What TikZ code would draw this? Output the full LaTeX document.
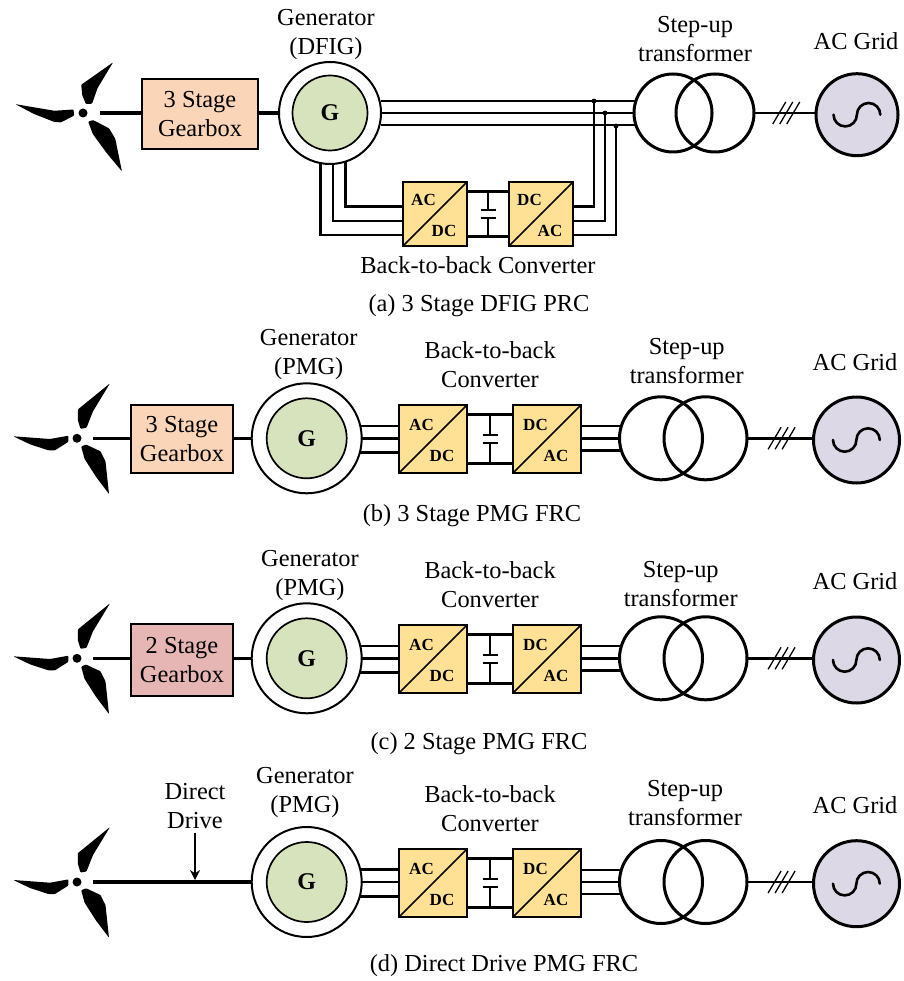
\documentclass[tikz,border=0pt]{standalone}
\usepackage{fontspec}
\setmainfont{Liberation Serif}
\usepackage{tikz}
\usetikzlibrary{arrows.meta, calc}

\definecolor{gearpeach}{HTML}{FBD5B8}
\definecolor{gearred}{HTML}{E6B6B4}
\definecolor{gengreen}{HTML}{D7E3BD}
\definecolor{convyellow}{HTML}{FFE196}
\definecolor{gridlilac}{HTML}{DDD8E6}

\tikzset{
    lbl/.style={align=center, inner sep=0pt, font=\fontsize{24.4}{29}\selectfont},
    caption/.style={inner sep=0pt, font=\fontsize{24.4}{29}\selectfont},
    small/.style={inner sep=0pt, font=\fontsize{17}{20}\selectfont\bfseries},
    gearbox/.style={draw, line width=2.5pt, outer sep=0pt, align=center, inner sep=0pt, font=\fontsize{24.4}{29}\selectfont},
    genouter/.style={draw, circle, fill=white, line width=2pt, outer sep=0pt, inner sep=0pt},
    geninner/.style={draw, circle, fill=gengreen, line width=1.7pt, outer sep=0pt, inner sep=0pt, font=\fontsize{24}{28}\selectfont\bfseries},
    convbox/.style={draw, fill=convyellow, line width=2.5pt, outer sep=0pt, inner sep=0pt, minimum size=#1},
    coil/.style={draw, circle, line width=3pt, outer sep=0pt, inner sep=0pt, minimum size=#1},
    gridnode/.style={draw, circle, fill=gridlilac, line width=3pt, outer sep=0pt, inner sep=0pt, minimum size=#1},
    hubdot/.style={fill, circle, inner sep=0pt, minimum size=9pt},
    wire/.style={line width=2.6pt},
    shaft/.style={line width=3.4pt},
}

% turbine: name, hub position, transform of the blades
\newcommand{\windmill}[3]{
    \node[hubdot] (#1) at (#2) {};
    \begin{scope}[shift={(#2)}, #3]
        \fill[rounded corners=0.8pt] (-63.7,-2) -- (-27,0.7) -- (-8.7,-2.6) -- (-8.7,3.6) -- (-22,12) -- (-28.7,12) -- (-47,6) -- cycle;
        \fill[rounded corners=0.8pt] (33,-55) -- (16,-27) -- (9.5,-10.5) -- (3.5,-9.5) -- (0.8,-18.3) -- (0.8,-28.8) -- cycle;
        \fill[rounded corners=0.8pt] (32,55.7) -- (28.5,23) -- (23.5,13) -- (9,6.2) -- (4.2,8.3) -- (7.5,20.5) -- (19,38.5) -- cycle;
    \end{scope}
}

% converter pair with dc link and capacitor: row, y of the centre, x left, x right, size
\newcommand{\converters}[5]{
    \draw[wire] (#3,#2-#5/2+9.5) coordinate (#1dca) -- (#4,#2-#5/2+9.5) coordinate (#1dcb);
    \draw[wire] (#3,#2+#5/2-9.5) coordinate (#1dcc) -- (#4,#2+#5/2-9.5) coordinate (#1dcd);
    \node[convbox=#5 pt] (#1cl) at (#3,#2) {};
    \node[convbox=#5 pt] (#1cr) at (#4,#2) {};
    \draw[line width=1.5pt] (#1cl.south west) -- (#1cl.north east);
    \draw[line width=1.5pt] (#1cr.south west) -- (#1cr.north east);
    \node[small] (#1aca) at (#3-11.5,#2-14) {AC};
    \node[small] (#1dcl) at (#3+9,#2+16.5) {DC};
    \node[small] (#1dcr) at (#4-11.5,#2-14) {DC};
    \node[small] (#1acb) at (#4+9,#2+16.5) {AC};
    % capacitor
    \coordinate (#1capa) at ({(#3+#4)/2},#2-4);
    \coordinate (#1capb) at ({(#3+#4)/2},#2+4);
    \draw[line width=1.3pt] (#1dca -| #1capa) -- (#1capa);
    \draw[line width=1.3pt] (#1dcc -| #1capb) -- (#1capb);
    \draw[line width=1.3pt] ([xshift=-7.5pt]#1capa) -- ([xshift=7.5pt]#1capa);
    \draw[line width=1.3pt] ([xshift=-7.5pt]#1capb) -- ([xshift=7.5pt]#1capb);
}

% transformer, three phase line and grid: row, y of the centre, x coil 1, x coil 2, radius, x grid, grid radius
\newcommand{\gridside}[7]{
    \node[coil=#5*2 pt] (#1tl) at (#3,#2) {};
    \node[coil=#5*2 pt] (#1tr) at (#4,#2) {};
    \node[gridnode=#7*2 pt] (#1grid) at (#6,#2+1.7) {};
    \draw[wire] (#1tr.east) -- (#1tr.east -| #1grid.west) coordinate (#1gin);
    \coordinate (#1sl) at ($(#1tr.east)!0.52!(#1gin)$);
    \draw[line width=1.3pt] ([shift={(-13.5,11)}]#1sl) -- ([shift={(-0.5,-11)}]#1sl);
    \draw[line width=1.3pt] ([shift={(-6.5,11)}]#1sl) -- ([shift={(6.5,-11)}]#1sl);
    \draw[line width=1.3pt] ([shift={(0.5,11)}]#1sl) -- ([shift={(13.5,-11)}]#1sl);
    \draw[line width=2.6pt, line cap=round] ([shift={(-23.5,0)}]#1grid.center)
        arc[start angle=180, end angle=0, radius=11.7] arc[start angle=180, end angle=360, radius=11.7];
}

\begin{document}
\begin{tikzpicture}[x=1pt, y=-1pt]
    \useasboundingbox (0,0) rectangle (903,981);

    % (a) 3 Stage DFIG PRC
    \windmill{huba}{83,113}{cm={1.06,-0.108,-0.09,0.985,(0,0)}}
    \node[gearbox, fill=gearpeach, minimum width=116pt, minimum height=70pt] (boxa) at (200,114) {3 Stage\\Gearbox};
    \node[genouter, minimum size=102pt] (gena) at (330,113) {};
    \node[geninner, minimum size=75pt] (rotora) at (330,113) {G};
    \draw[shaft] ([xshift=17pt]huba.center) -- (huba.center -| boxa.west);
    \draw[shaft] (gena.west -| boxa.east) -- (gena.west);
    \node[lbl] (gentexta) at (326,34.5) {Generator\\(DFIG)};
    \converters{a}{214}{435}{541}{64}
    \gridside{a}{113}{673}{715}{39}{857}{41}
    % stator lines
    \draw[wire] (gena.east |- atl.162) -- (atl.162);
    \draw[wire] (gena.east) -- (atl.west);
    \draw[wire] (gena.east |- atl.198) -- (atl.198);
    % rotor lines
    \draw[wire] (gena.-72) |- ([yshift=7.5pt]acl.west);
    \draw[wire] (gena.south) ++(3,0) |- ([yshift=-7pt]acl.west);
    \draw[wire] (gena.-101) |- ([yshift=-21pt]acl.west);
    % taps on the stator lines
    \coordinate (tapa) at (594,101);
    \coordinate (tapb) at (605,113);
    \coordinate (tapc) at (616,126);
    \draw[wire] ([yshift=7.5pt]acr.east) -| (tapa);
    \draw[wire] ([yshift=-7pt]acr.east) -| (tapb);
    \draw[wire] ([yshift=-21pt]acr.east) -| (tapc);
    \fill (tapa) circle (2.4);
    \fill (tapb) circle (2.4);
    \fill (tapc) circle (2.4);
    \node[lbl] (steptexta) at (695,39.5) {Step-up\\transformer};
    \node[lbl] (gridtexta) at (856,41) {AC Grid};
    \node[lbl] (convtexta) at (478,265) {Back-to-back Converter};
    \node[caption] (captiona) at (479,305.5) {(a) 3 Stage DFIG PRC};

    % (b) 3 Stage PMG FRC
    \windmill{hubb}{77,438.3}{}
    \node[gearbox, fill=gearpeach, minimum width=102pt, minimum height=68pt] (boxb) at (182,439) {3 Stage\\Gearbox};
    \node[genouter, minimum size=110pt] (genb) at (306.7,438.3) {};
    \node[geninner, minimum size=80pt] (rotorb) at (306.7,438.3) {G};
    \draw[shaft] ([xshift=16pt]hubb.center) -- (hubb.center -| boxb.west);
    \draw[shaft] (genb.west -| boxb.east) -- (genb.west);
    \node[lbl] (gentextb) at (308.7,355) {Generator\\(PMG)};
    \converters{b}{439}{433}{547}{68}
    \gridside{b}{438.3}{661}{705.5}{41.5}{856.5}{43}
    \draw[wire] (genb.13) -- (genb.13 -| bcl.west);
    \draw[wire] (genb.east) -- (genb.east -| bcl.west);
    \draw[wire] (genb.-15) -- (genb.-15 -| bcl.west);
    \draw[wire] (bcr.east |- btl.163) -- (btl.163);
    \draw[wire] (btl.west -| bcr.east) -- (btl.west);
    \draw[wire] (bcr.east |- btl.197) -- (btl.197);
    \node[lbl] (convtextb) at (490,364.5) {Back-to-back\\Converter};
    \node[lbl] (steptextb) at (686.7,361.5) {Step-up\\transformer};
    \node[lbl] (gridtextb) at (855,361.7) {AC Grid};
    \node[caption] (captionb) at (472,515.5) {(b) 3 Stage PMG FRC};

    % (c) 2 Stage PMG FRC
    \windmill{hubc}{77,658.3}{}
    \node[gearbox, fill=gearred, minimum width=102pt, minimum height=72pt] (boxc) at (182,660) {2 Stage\\Gearbox};
    \node[genouter, minimum size=110pt] (genc) at (306.7,658.3) {};
    \node[geninner, minimum size=80pt] (rotorc) at (306.7,658.3) {G};
    \draw[shaft] ([xshift=16pt]hubc.center) -- (hubc.center -| boxc.west);
    \draw[shaft] (genc.west -| boxc.east) -- (genc.west);
    \node[lbl] (gentextc) at (310,575.5) {Generator\\(PMG)};
    \converters{c}{659}{433}{547}{68}
    \gridside{c}{658.3}{661}{705.5}{41.5}{856.5}{43}
    \draw[wire] (genc.13) -- (genc.13 -| ccl.west);
    \draw[wire] (genc.east) -- (genc.east -| ccl.west);
    \draw[wire] (genc.-15) -- (genc.-15 -| ccl.west);
    \draw[wire] (ccr.east |- ctl.163) -- (ctl.163);
    \draw[wire] (ctl.west -| ccr.east) -- (ctl.west);
    \draw[wire] (ccr.east |- ctl.197) -- (ctl.197);
    \node[lbl] (convtextc) at (490,584.5) {Back-to-back\\Converter};
    \node[lbl] (steptextc) at (680.7,584.5) {Step-up\\transformer};
    \node[lbl] (gridtextc) at (855,580.7) {AC Grid};
    \node[caption] (captionc) at (479,743.5) {(c) 2 Stage PMG FRC};

    % (d) Direct Drive PMG FRC
    \windmill{hubd}{77,882}{}
    \node[genouter, minimum size=110pt] (gend) at (306.7,882) {};
    \node[geninner, minimum size=80pt] (rotord) at (306.7,882) {G};
    \draw[shaft] ([xshift=16pt]hubd.center) -- (gend.west);
    \node[lbl] (gentextd) at (305,793) {Generator\\(PMG)};
    \node[lbl] (drivetext) at (195,806.5) {Direct\\Drive};
    \draw[line width=1.4pt, -{Stealth[length=10pt,width=10pt]}] (drivetext.south) ++(0,4) -- ([yshift=2pt]drivetext.south |- hubd.center);
    \converters{d}{883}{433}{547}{68}
    \gridside{d}{882}{661}{705.5}{41.5}{856.5}{43}
    \draw[wire] (gend.13) -- (gend.13 -| dcl.west);
    \draw[wire] (gend.east) -- (gend.east -| dcl.west);
    \draw[wire] (gend.-15) -- (gend.-15 -| dcl.west);
    \draw[wire] (dcr.east |- dtl.163) -- (dtl.163);
    \draw[wire] (dtl.west -| dcr.east) -- (dtl.west);
    \draw[wire] (dcr.east |- dtl.197) -- (dtl.197);
    \node[lbl] (convtextd) at (490,808.5) {Back-to-back\\Converter};
    \node[lbl] (steptextd) at (685,803.5) {Step-up\\transformer};
    \node[lbl] (gridtextd) at (855,805) {AC Grid};
    \node[caption] (captiond) at (504,966) {(d) Direct Drive PMG FRC};
\end{tikzpicture}
\end{document}
